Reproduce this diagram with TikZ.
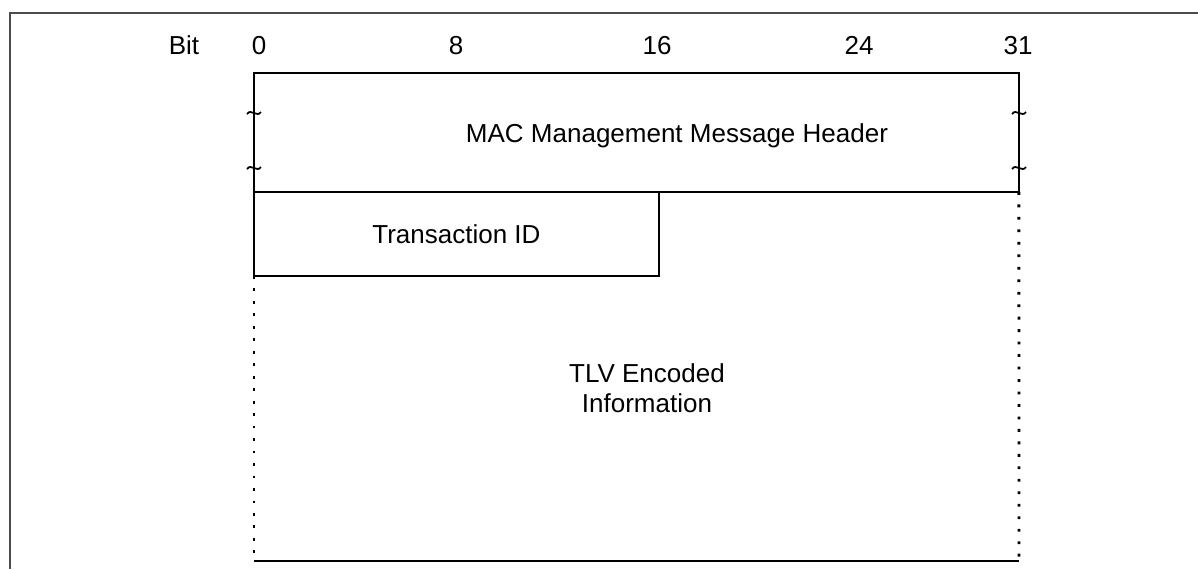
\documentclass[tikz,border=0pt]{standalone}
\usepackage{fontspec}
\setmainfont{Liberation Sans}
\usepackage{tikz}
\usetikzlibrary{positioning}

\begin{document}
\begin{tikzpicture}[
    x=0.02cm, y=-0.02cm,
    field/.style={
      draw,
      line width=1.1pt,
      inner sep=0pt,
      outer sep=0pt,
      align=center,
      font=\fontsize{14.8}{17}\selectfont
    },
    bitlabel/.style={
      anchor=base,
      inner sep=0pt,
      font=\fontsize{14.8}{17}\selectfont
    },
    gap/.style={
      line width=1.6pt,
      dash pattern=on 1.6pt off 5.5pt
    }
  ]
    \useasboundingbox (0,0) rectangle (1198,569);
    \draw[line width=1.2pt, black!70] (1198,13) -- (10,13) -- (10,569);
    \node[bitlabel] (bit) at (184,54) {Bit};
    \node[bitlabel] (b0) at (259,54) {0};
    \node[bitlabel] (b8) at (456,54) {8};
    \node[bitlabel] (b16) at (657,54) {16};
    \node[bitlabel] (b24) at (859,54) {24};
    \node[bitlabel] (b31) at (1018,54) {31};
    \node[field, anchor=north west, minimum width=15.3cm, minimum height=2.38cm] (header) at (254,73) {};
    \node[bitlabel] (hdrtext) at (677,142.5) {MAC Management Message Header};
    \node[field, anchor=north west, minimum width=8.1cm, minimum height=1.68cm] (trans) at (254,192) {Transaction ID};
    \coordinate (bl) at (254,561);
    \coordinate (br) at (1019,561);
    \node[field, draw=none] (tlv) at (647,388) {TLV Encoded\\Information};
    \draw[gap] (trans.south west) -- (bl);
    \draw[gap] (header.south east) -- (br);
    \draw[line width=1.1pt] (bl) -- (br);
    \foreach \ty in {113,168}
      \foreach \tx in {254,1019}
        \draw[line width=1pt] ({\tx-7},{\ty+1}) .. controls ({\tx-3},{\ty-5}) and ({\tx+3},{\ty+5}) .. ({\tx+7},{\ty-1});
  \end{tikzpicture}
\end{document}
